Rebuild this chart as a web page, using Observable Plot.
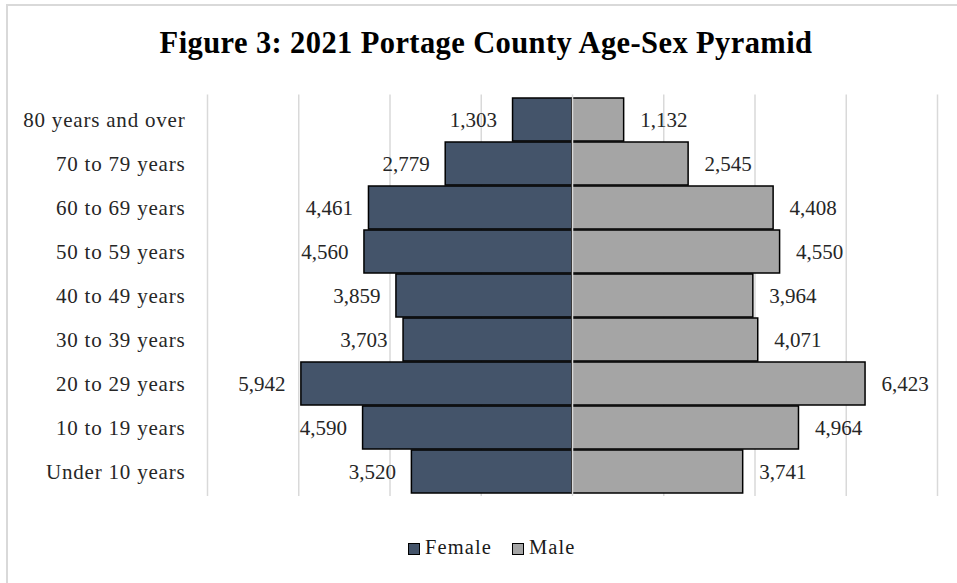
<!DOCTYPE html>
<html>
<head>
<meta charset="utf-8">
<script src="https://cdn.jsdelivr.net/npm/d3@7"></script>
<script src="https://cdn.jsdelivr.net/npm/@observablehq/plot@0.6"></script>
<style>
  html, body { margin: 0; padding: 0; background: #fff; }
  #wrap { position: relative; width: 957px; height: 583px; overflow: hidden; font-family: "Liberation Serif", "DejaVu Serif", serif; }
  #frame { position: absolute; left: 6px; top: 4px; width: 1000px; height: 700px; border-top: 2px solid #d9d9d9; border-left: 2px solid #d9d9d9; box-sizing: border-box; }
  #title { position: absolute; left: 0; width: 972px; top: 28px; line-height: 30px; text-align: center; font-weight: bold; font-size: 30.5px; letter-spacing: 0.4px; color: #000; white-space: nowrap; }
  #chart { position: absolute; left: 0; top: 0; }
  #chart svg g[aria-label="y-axis tick label"] text { letter-spacing: 0.8px; }
  #legend { position: absolute; left: 408px; top: 537px; line-height: 20px; font-size: 20.5px; letter-spacing: 1.1px; color: #1a1a1a; white-space: nowrap; }
  .sw { display: inline-block; width: 10px; height: 10px; border: 1.5px solid #000; vertical-align: -1px; margin-right: 5px; }
  .item { margin-right: 20px; }
</style>
</head>
<body>
<div id="wrap">
  <div id="frame"></div>
  <div id="title">Figure 3: 2021 Portage County Age-Sex Pyramid</div>
  <div id="chart"></div>
  <div id="legend"></div>
</div>
<script>
const categories = ["80 years and over","70 to 79 years","60 to 69 years","50 to 59 years","40 to 49 years","30 to 39 years","20 to 29 years","10 to 19 years","Under 10 years"];
const female = [1303, 2779, 4461, 4560, 3859, 3703, 5942, 4590, 3520];
const male = [1132, 2545, 4408, 4550, 3964, 4071, 6423, 4964, 3741];
const seriesNames = ["Female", "Male"];
const seriesColors = ["#44546a", "#a5a5a5"];
const gridTicks = [-8000, -6000, -4000, -2000, 2000, 4000, 6000, 8000];

const rows = [];
categories.forEach((c, i) => {
  rows.push({cat: c, sex: "Female", value: female[i], signed: -female[i]});
  rows.push({cat: c, sex: "Male", value: male[i], signed: male[i]});
});
const fmt = d3.format(",");

const plot = Plot.plot({
  width: 957,
  height: 583,
  marginTop: 94.5,
  marginBottom: 87,
  marginLeft: 207,
  marginRight: 20,
  style: {fontFamily: '"Liberation Serif", "DejaVu Serif", serif', background: "transparent"},
  x: {domain: [-8000, 8000], axis: null},
  y: {domain: categories, padding: 0.02, label: null},
  color: {domain: seriesNames, range: seriesColors},
  marks: [
    Plot.ruleX(gridTicks, {stroke: "#d9d9d9", strokeWidth: 1.5}),
    Plot.barX(rows, {y: "cat", x: "signed", fill: "sex", stroke: "#000", strokeWidth: 1.5}),
    Plot.ruleX([0], {stroke: "#d9d9d9", strokeWidth: 1.5}),
    Plot.text(rows.filter(d => d.sex === "Female"), {y: "cat", x: "signed", text: d => fmt(d.value), textAnchor: "end", dx: -16, fontSize: 21, fill: "#262626"}),
    Plot.text(rows.filter(d => d.sex === "Male"), {y: "cat", x: "signed", text: d => fmt(d.value), textAnchor: "start", dx: 16, fontSize: 21, fill: "#262626"}),
    Plot.axisY({tickSize: 0, tickPadding: 22, fontSize: 21, color: "#262626", label: null})
  ]
});
document.getElementById("chart").appendChild(plot);

const legend = document.getElementById("legend");
seriesNames.forEach((n, i) => {
  const s = document.createElement("span");
  s.className = "item";
  s.innerHTML = `<span class="sw" style="background:${seriesColors[i]}"></span>${n}`;
  legend.appendChild(s);
});
</script>
</body>
</html>
